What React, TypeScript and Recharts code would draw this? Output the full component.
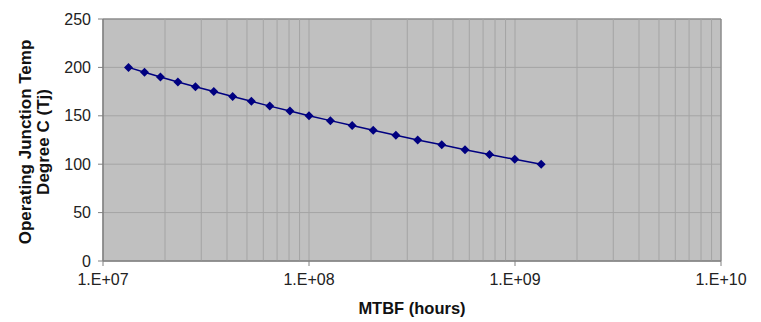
import React from 'react';
import { LineChart, Line, XAxis, YAxis, CartesianGrid, ReferenceArea, ReferenceLine } from 'recharts';

// junction temperature (deg C) vs MTBF (hours)
const junctionTemps = [200, 195, 190, 185, 180, 175, 170, 165, 160, 155, 150, 145, 140, 135, 130, 125, 120, 115, 110, 105, 100];
const mtbfHours = [
  1.33e7, 1.59e7, 1.9e7, 2.31e7, 2.81e7, 3.45e7, 4.26e7, 5.25e7, 6.45e7, 8.08e7,
  1.0e8, 1.27e8, 1.62e8, 2.05e8, 2.64e8, 3.37e8, 4.41e8, 5.72e8, 7.52e8, 9.97e8, 1.34e9,
];

const decadeTicks = [1e7, 1e8, 1e9, 1e10];
const decadeSteps = [1, 2, 3, 4, 5, 6, 7, 8, 9];
const tempTicks = [0, 50, 100, 150, 200, 250];

// log-minor gridline positions (2..9 x each decade, plus the decades themselves)
const minorTicks = decadeTicks.slice(0, 3).flatMap((d) => decadeSteps.slice(1).map((s) => s * d));
const data = mtbfHours.map((mtbf, i) => ({ mtbf, tj: junctionTemps[i] }));

const FONT = '"Liberation Sans", Arial, sans-serif';
const GRID = '#a4a4a4';
const formatExp = (v: number) => `1.E+${String(Math.round(Math.log10(v))).padStart(2, '0')}`;

const Diamond = (props: any) => {
  const { cx, cy } = props;
  if (cx == null || cy == null) return null;
  const r = 4.5;
  return <path d={`M${cx},${cy - r}L${cx + r},${cy}L${cx},${cy + r}L${cx - r},${cy}Z`} fill="#000080" />;
};

const YTitle = (props: any) => {
  const { viewBox } = props;
  const cy = viewBox.y + viewBox.height / 2 + 2;
  const style = { fontFamily: FONT, fontSize: 17, fontWeight: 'bold', fill: '#111' } as const;
  return (
    <g>
      <text x={25} y={cy} transform={`rotate(-90 25 ${cy})`} textAnchor="middle" dominantBaseline="central" style={style}>
        Operating Junction Temp
      </text>
      <text x={43} y={cy} transform={`rotate(-90 43 ${cy})`} textAnchor="middle" dominantBaseline="central" style={style}>
        Degree C (Tj)
      </text>
    </g>
  );
};

const XTitle = (props: any) => {
  const { viewBox } = props;
  return (
    <text
      x={viewBox.x + viewBox.width / 2}
      y={308}
      textAnchor="middle"
      dominantBaseline="central"
      style={{ fontFamily: FONT, fontSize: 16.5, fontWeight: 'bold', fill: '#111' }}
    >
      MTBF (hours)
    </text>
  );
};

export default function App() {
  return (
    <div style={{ position: 'absolute', left: 0, top: 0, background: '#fff' }}>
      <LineChart width={761} height={322} data={data} margin={{ top: 19, right: 40, bottom: 0, left: 0 }}>
        <CartesianGrid stroke={GRID} fill="#c0c0c0" fillOpacity={1} />
        <XAxis
          dataKey="mtbf"
          type="number"
          scale="log"
          domain={[1e7, 1e10]}
          ticks={decadeTicks}
          tickFormatter={formatExp}
          height={61}
          stroke="#808080"
          tickSize={5}
          tickMargin={8}
          tick={{ fill: '#222', fontSize: 16, fontFamily: FONT }}
          allowDataOverflow
          label={{ content: XTitle }}
        />
        <YAxis
          type="number"
          domain={[0, 250]}
          ticks={tempTicks}
          width={103}
          stroke="#808080"
          tickSize={5}
          tickMargin={7}
          tick={{ fill: '#222', fontSize: 16, fontFamily: FONT }}
          label={{ content: YTitle }}
        />
        {minorTicks.map((t) => (
          <ReferenceLine key={t} x={t} stroke={GRID} strokeWidth={1} />
        ))}
        <ReferenceArea x1={1e7} x2={1e10} y1={0} y2={250} fill="none" stroke="#808080" strokeWidth={1} />
        <Line
          dataKey="tj"
          stroke="#000080"
          strokeWidth={1.5}
          dot={<Diamond />}
          activeDot={false}
          isAnimationActive={false}
        />
      </LineChart>
    </div>
  );
}
